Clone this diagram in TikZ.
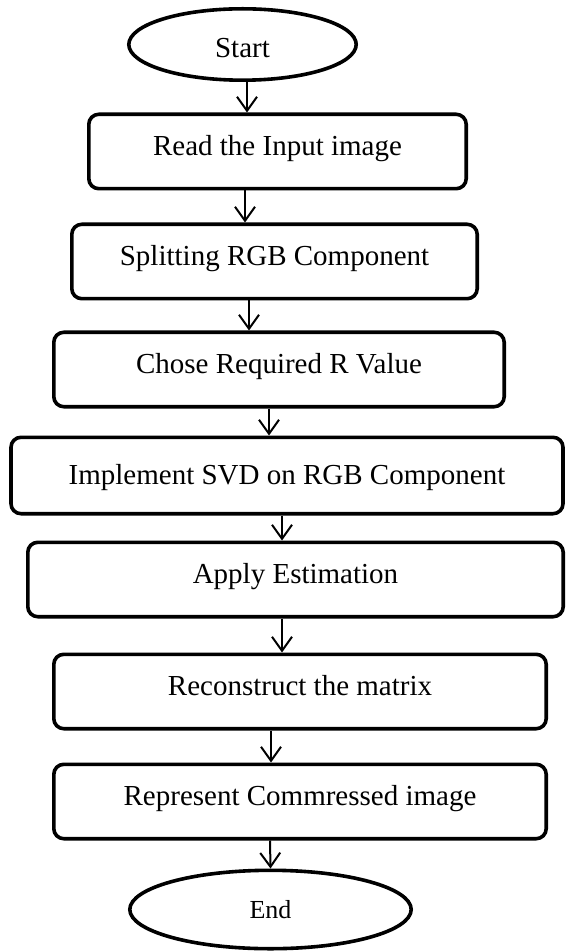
\documentclass[tikz,border=0pt]{standalone}
\usepackage{fontspec}
\setmainfont{Liberation Serif}
\usepackage{tikz}
\usetikzlibrary{shapes,arrows.meta}
\tikzstyle{block}    = [rectangle,
                        draw,
                        rounded corners=5pt,
                        line width=1.8pt,
                        text centered,
                        minimum height=37.2pt,
                        text height=10pt,
                        text depth=6pt,
                        inner sep=0pt,
                        font=\fontsize{14.5}{17}\selectfont]
\tikzstyle{terminal} = [ellipse,
                        draw,
                        line width=1.8pt,
                        inner sep=0pt]
\tikzstyle{line}     = [draw, line width=1pt, -{Straight Barb[length=7pt,width=10pt]}]

\begin{document}
\begin{tikzpicture}[%
  auto,
  node distance = 54pt
  ]
  \useasboundingbox (0,0) rectangle (283pt,-475.5pt);

  % Nodes:
  \node (f-start) [terminal, minimum width=113.7pt, minimum height=35.7pt, text height=13pt, text depth=0pt, font=\fontsize{14.5}{17}\selectfont] at (121.25pt,-22.25pt) {Start};
  \node (f-read) [block, below of=f-start, minimum width=188.7pt, xshift=17.5pt, yshift=.5pt] {Read the Input image};
  \node (f-split) [block, below of=f-read, minimum width=202.7pt, xshift=-1.5pt, yshift=-1pt] {Splitting RGB Component};
  \node (f-chose) [block, below of=f-split, minimum width=225.2pt, xshift=2.25pt] {Chose Required R Value};
  \node (f-svd) [block, below of=f-chose, minimum width=276pt, minimum height=38.2pt, text depth=1.4pt, xshift=4pt, yshift=1pt] {Implement SVD on RGB Component};
  \node (f-estim) [block, below of=f-svd, minimum width=267.7pt, xshift=4.25pt, yshift=2pt] {Apply Estimation};
  \node (f-recon) [block, below of=f-estim, minimum width=246.2pt, xshift=2.25pt, yshift=-2pt] {Reconstruct the matrix};
  \node (f-repr) [block, below of=f-recon, minimum width=246.2pt, yshift=-1pt] {Represent Commressed image};
  \node (f-stop) [terminal, below of=f-repr, minimum width=140.7pt, minimum height=39.2pt, xshift=-14.75pt, font=\fontsize{13}{15}\selectfont] {End};

  % Connectors:
  \draw[line] ([xshift=2.25pt]f-start.south) -- ([xshift=2.25pt]f-start.south |- f-read.north);
  \draw[line] ([xshift=-16.25pt]f-read.south) -- ([xshift=-16.25pt]f-read.south |- f-split.north);
  \draw[line] ([xshift=-12.75pt]f-split.south) -- ([xshift=-12.75pt]f-split.south |- f-chose.north);
  \draw[line] ([xshift=-5pt]f-chose.south) -- ([xshift=-5pt]f-chose.south |- f-svd.north);
  \draw[line] ([xshift=-2.5pt]f-svd.south) -- ([xshift=-2.5pt]f-svd.south |- f-estim.north);
  \draw[line] ([xshift=-6.75pt]f-estim.south) -- ([xshift=-6.75pt]f-estim.south |- f-recon.north);
  \draw[line] ([xshift=-14.5pt]f-recon.south) -- ([xshift=-14.5pt]f-recon.south |- f-repr.north);
  \draw[line] ([xshift=-15pt]f-repr.south) -- (f-stop.north);
\end{tikzpicture}
\end{document}
